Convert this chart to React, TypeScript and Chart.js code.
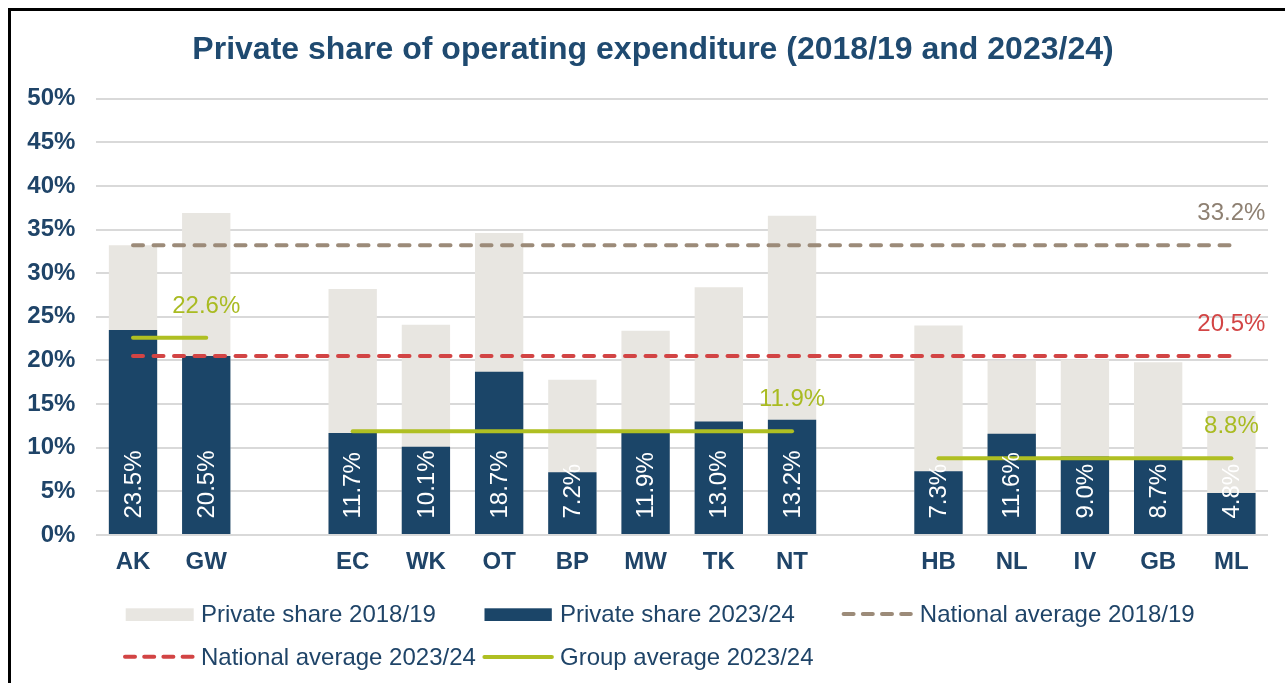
import React, { useEffect, useRef } from 'react';
import { Chart, registerables } from 'chart.js';

Chart.register(...registerables);

// ---------- data ----------
const categories = ['AK', 'GW', ' ', 'EC', 'WK', 'OT', 'BP', 'MW', 'TK', 'NT', '  ', 'HB', 'NL', 'IV', 'GB', 'ML'];
const share2018 = [33.2, 36.9, null, 28.2, 24.1, 34.6, 17.8, 23.4, 28.4, 36.6, null, 24.0, 20.0, 20.1, 19.8, 14.2];
const share2023 = [23.5, 20.5, null, 11.7, 10.1, 18.7, 7.2, 11.9, 13.0, 13.2, null, 7.3, 11.6, 9.0, 8.7, 4.8];
const nationalAvg2018 = 33.2;
const nationalAvg2023 = 20.5;
const groupFirst = ['AK', 'EC', 'HB'];
const groupLast = ['GW', 'NT', 'ML'];
const groupAvg = [22.6, 11.9, 8.8];
const yMin = 0;
const yMax = 50;
const yStep = 5;
const legendLabels = [
  'Private share 2018/19',
  'Private share 2023/24',
  'National average 2018/19',
  'National average 2023/24',
  'Group average 2023/24',
];
const titleText = 'Private share of operating expenditure (2018/19 and 2023/24)';

// ---------- style ----------
const FONT = "'Liberation Sans', Arial, Helvetica, sans-serif";
const COL = {
  grey: '#e8e6e1',
  navy: '#1b4568',
  brown: '#9c8b79',
  red: '#d24444',
  green: '#afbf22',
  text: '#1f4468',
  title: '#1f4a70',
  grid: '#d9d9d9',
  brownText: '#8e8072',
  redText: '#d34545',
  greenText: '#a9bb22',
};
const PLOT_DASH = [10, 10.5];
const LEGEND_DASH = [10, 9.2];

const W = 1274;
const H = 672;

const annotatePlugin = {
  id: 'annotate',
  afterDatasetsDraw(chart: any) {
    const ctx = chart.ctx as CanvasRenderingContext2D;
    ctx.save();
    // value labels inside dark bars
    const meta = chart.getDatasetMeta(1);
    ctx.font = `24px ${FONT}`;
    ctx.fillStyle = '#ffffff';
    ctx.textAlign = 'left';
    ctx.textBaseline = 'middle';
    meta.data.forEach((bar: any, i: number) => {
      const v = share2023[i];
      if (v == null) return;
      ctx.save();
      ctx.translate(bar.x + 1, bar.base - 15.5);
      ctx.rotate(-Math.PI / 2);
      ctx.fillText(v.toFixed(1) + '%', 0, 0);
      ctx.restore();
    });
    // end labels of lines
    chart.data.datasets.forEach((ds: any, di: number) => {
      if (ds.type !== 'line' || !ds.endLabel) return;
      const m = chart.getDatasetMeta(di);
      const last = m.data[m.data.length - 1];
      ctx.font = `24px ${FONT}`;
      ctx.fillStyle = ds.labelColor;
      ctx.textAlign = 'center';
      ctx.textBaseline = 'middle';
      ctx.fillText(ds.endLabel, last.x, last.y - 31.5);
    });
    ctx.restore();
  },
  afterDraw(chart: any) {
    const ctx = chart.ctx as CanvasRenderingContext2D;
    ctx.save();
    // title
    ctx.font = `bold 32px ${FONT}`;
    ctx.fillStyle = COL.title;
    ctx.textAlign = 'center';
    ctx.textBaseline = 'alphabetic';
    ctx.fillText(titleText, 642, 48.3);

    // legend
    ctx.font = `24px ${FONT}`;
    ctx.fillStyle = COL.text;
    ctx.textAlign = 'left';
    const b1 = 610.5;
    const b2 = 654;
    // swatches
    ctx.fillStyle = COL.grey;
    ctx.fillRect(114.7, 597.3, 68, 12.7);
    ctx.fillStyle = COL.navy;
    ctx.fillRect(473.5, 597.3, 67.3, 12.7);
    const line = (x0: number, x1: number, y: number, color: string, dash: number[]) => {
      ctx.save();
      ctx.strokeStyle = color;
      ctx.lineWidth = 4;
      ctx.lineCap = 'round';
      ctx.setLineDash(dash);
      ctx.beginPath();
      ctx.moveTo(x0, y);
      ctx.lineTo(x1, y);
      ctx.stroke();
      ctx.restore();
    };
    line(832.6, 899.8, 603, COL.brown, LEGEND_DASH);
    line(114, 182, 645.7, COL.red, LEGEND_DASH);
    line(473.4, 540.9, 646, COL.green, []);
    ctx.fillStyle = COL.text;
    ctx.fillText(legendLabels[0], 190, b1);
    ctx.fillText(legendLabels[1], 549, b1);
    ctx.fillText(legendLabels[2], 908.8, b1);
    ctx.fillText(legendLabels[3], 190, b2);
    ctx.fillText(legendLabels[4], 549, b2);
    ctx.restore();
  },
};

export default function App() {
  const ref = useRef<HTMLCanvasElement | null>(null);

  useEffect(() => {
    if (!ref.current) return;
    const first = categories[0];
    const last = categories[categories.length - 1];
    const lineBase = {
      type: 'line' as const,
      pointRadius: 0,
      pointHoverRadius: 0,
      borderWidth: 4,
      borderCapStyle: 'round' as const,
      fill: false,
      tension: 0,
      order: 0,
    };
    const groupSets = groupAvg.map((g, i) => ({
      ...lineBase,
      label: legendLabels[4],
      data: [
        { x: groupFirst[i], y: g },
        { x: groupLast[i], y: g },
      ],
      borderColor: COL.green,
      endLabel: g.toFixed(1) + '%',
      labelColor: COL.greenText,
    }));

    const chart = new Chart(ref.current, {
      type: 'bar',
      data: {
        labels: categories,
        datasets: [
          {
            ...lineBase,
            label: legendLabels[2],
            data: [
              { x: first, y: nationalAvg2018 },
              { x: last, y: nationalAvg2018 },
            ],
            borderColor: COL.brown,
            borderDash: PLOT_DASH,
            endLabel: nationalAvg2018.toFixed(1) + '%',
            labelColor: COL.brownText,
          } as any,
          {
            type: 'bar',
            label: legendLabels[1],
            data: share2023,
            backgroundColor: COL.navy,
            grouped: false,
            barPercentage: 0.66,
            categoryPercentage: 1,
            order: 1,
          } as any,
          {
            type: 'bar',
            label: legendLabels[0],
            data: share2018,
            backgroundColor: COL.grey,
            grouped: false,
            barPercentage: 0.66,
            categoryPercentage: 1,
            order: 2,
          } as any,
          {
            ...lineBase,
            label: legendLabels[3],
            data: [
              { x: first, y: nationalAvg2023 },
              { x: last, y: nationalAvg2023 },
            ],
            borderColor: COL.red,
            borderDash: PLOT_DASH,
            endLabel: nationalAvg2023.toFixed(1) + '%',
            labelColor: COL.redText,
          } as any,
          ...(groupSets as any[]),
        ],
      },
      options: {
        responsive: false,
        animation: false,
        devicePixelRatio: 1,
        layout: { padding: { left: 0, right: 17, top: 87.7, bottom: 108 } },
        plugins: {
          legend: { display: false },
          title: { display: false },
          tooltip: { enabled: false },
        },
        scales: {
          x: {
            type: 'category',
            offset: true,
            grid: { display: false, drawTicks: false },
            border: { display: false },
            ticks: {
              autoSkip: false,
              maxRotation: 0,
              minRotation: 0,
              padding: 12.5,
              color: COL.text,
              font: { family: FONT, size: 24, weight: 'bold' },
            },
            afterFit: (s: any) => {
              s.height = 40;
            },
          },
          y: {
            min: yMin,
            max: yMax,
            grid: { color: COL.grid, lineWidth: 2, drawTicks: false },
            border: { display: false },
            ticks: {
              stepSize: yStep,
              padding: 21,
              color: COL.text,
              font: { family: FONT, size: 24, weight: 'bold' },
              callback: (v: any) => `${v}%`,
            },
            afterFit: (s: any) => {
              s.width = 85.4;
            },
          },
        },
      },
      plugins: [annotatePlugin],
    } as any);
    return () => chart.destroy();
  }, []);

  return (
    <div
      style={{
        position: 'fixed',
        left: 8,
        top: 8,
        width: W,
        height: H,
        borderLeft: '3px solid #000',
        borderTop: '3px solid #000',
        background: '#fff',
      }}
    >
      <canvas ref={ref} width={W} height={H} style={{ display: 'block', width: W, height: H }} />
    </div>
  );
}
